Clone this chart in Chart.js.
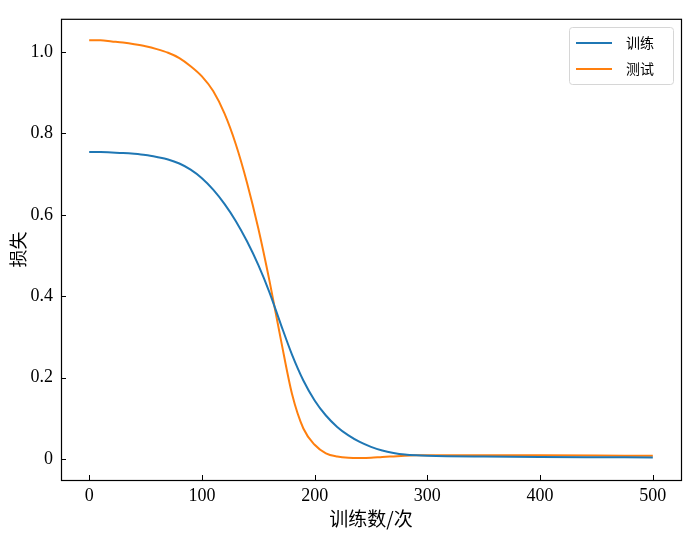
<!DOCTYPE html>
<html>
<head>
<meta charset="utf-8">
<script src="https://cdn.jsdelivr.net/npm/chart.js@4.4.1/dist/chart.umd.min.js"></script>
<style>
    body { margin: 0; background: #fff; }
    #lossChart { display: block; }
</style>
</head>
<body>
<canvas id="lossChart" width="696" height="537"></canvas>
<script>
const steps = [0, 10, 20, 30, 40, 50, 60, 70, 80, 90, 100, 110, 120, 130, 140, 150, 160, 170, 180, 190, 200, 210, 220, 230, 240, 250, 260, 270, 280, 290, 300, 350, 400, 450, 500];
const trainLoss = [0.754, 0.754, 0.753, 0.752, 0.750, 0.747, 0.742, 0.736, 0.726, 0.711, 0.690, 0.662, 0.627, 0.585, 0.535, 0.477, 0.409, 0.331, 0.256, 0.193, 0.144, 0.107, 0.079, 0.058, 0.042, 0.030, 0.021, 0.015, 0.011, 0.009, 0.008, 0.006, 0.005, 0.0045, 0.004];
const testLoss = [1.029, 1.029, 1.026, 1.023, 1.019, 1.014, 1.007, 0.998, 0.985, 0.965, 0.940, 0.904, 0.849, 0.774, 0.679, 0.567, 0.437, 0.294, 0.159, 0.075, 0.035, 0.014, 0.006, 0.003, 0.0025, 0.003, 0.005, 0.0065, 0.008, 0.009, 0.0095, 0.0095, 0.009, 0.0085, 0.008];
const xTicks = [0, 100, 200, 300, 400, 500];
const yTicks = [0, 0.2, 0.4, 0.6, 0.8, 1.0];
const seriesNames = ['训练', '测试'];

const serif = 'Liberation Serif, Noto Sans CJK SC, serif';
const cjk = 'Noto Sans CJK SC, sans-serif';

function toPoints(values) {
    return steps.map((s, i) => ({ x: s, y: values[i] }));
}

// frame + inward ticks like matplotlib
const framePlugin = {
    id: 'frame',
    afterDraw(chart) {
        const ctx = chart.ctx;
        const a = chart.chartArea;
        const xs = chart.scales.x;
        const ys = chart.scales.y;
        ctx.save();
        ctx.strokeStyle = '#000';
        ctx.lineWidth = 1;
        ctx.beginPath();
        xTicks.forEach(t => {
            const px = Math.round(xs.getPixelForValue(t)) + 0.5;
            ctx.moveTo(px, a.bottom);
            ctx.lineTo(px, a.bottom - 5);
        });
        yTicks.forEach(t => {
            const py = Math.round(ys.getPixelForValue(t)) + 0.5;
            ctx.moveTo(a.left, py);
            ctx.lineTo(a.left + 5, py);
        });
        ctx.stroke();
        ctx.lineWidth = 1.2;
        ctx.strokeRect(a.left + 0.5, a.top + 0.5, a.right - a.left, a.bottom - a.top);
        ctx.restore();
    }
};

const legendPlugin = {
    id: 'boxLegend',
    afterDraw(chart) {
        const ctx = chart.ctx;
        const bx = 569, by = 27, bw = 104, bh = 57;
        ctx.save();
        ctx.fillStyle = 'rgba(255,255,255,0.8)';
        ctx.strokeStyle = '#d6d6d6';
        ctx.lineWidth = 1;
        ctx.beginPath();
        ctx.roundRect(bx + 0.5, by + 0.5, bw, bh, 3);
        ctx.fill();
        ctx.stroke();
        ctx.font = '14px ' + cjk;
        ctx.textBaseline = 'middle';
        chart.data.datasets.forEach((ds, i) => {
            const y = by + 16 + i * 26;
            ctx.strokeStyle = ds.borderColor;
            ctx.lineWidth = 2;
            ctx.beginPath();
            ctx.moveTo(576, y);
            ctx.lineTo(612, y);
            ctx.stroke();
            ctx.fillStyle = '#000';
            ctx.fillText(ds.label, 626, y);
        });
        ctx.restore();
    }
};

const ctx = document.getElementById('lossChart').getContext('2d');
window.myChart = new Chart(ctx, {
    type: 'line',
    data: {
        datasets: [
            {
                label: seriesNames[0],
                data: toPoints(trainLoss),
                borderColor: '#1f77b4',
                borderWidth: 2,
                pointRadius: 0,
                cubicInterpolationMode: 'monotone',
                fill: false,
            },
            {
                label: seriesNames[1],
                data: toPoints(testLoss),
                borderColor: '#ff7f0e',
                borderWidth: 2,
                pointRadius: 0,
                cubicInterpolationMode: 'monotone',
                fill: false,
            },
        ],
    },
    options: {
        responsive: false,
        animation: false,
        layout: { padding: { left: 0, top: 18, right: 15, bottom: 0 } },
        plugins: {
            legend: { display: false },
            tooltip: { enabled: false },
        },
        scales: {
            x: {
                type: 'linear',
                min: -25,
                max: 525,
                afterBuildTicks: (axis) => { axis.ticks = xTicks.map(v => ({ value: v })); },
                afterFit: (axis) => { axis.height = 57; },
                grid: { display: false, drawTicks: false },
                border: { display: false },
                ticks: {
                    color: '#000',
                    padding: 5,
                    maxRotation: 0,
                    font: { family: serif, size: 18 },
                    callback: (v) => String(v),
                },
                title: {
                    display: true,
                    text: '训练数/次',
                    color: '#000',
                    font: { family: cjk, size: 19 },
                    padding: { top: 0, bottom: 7 },
                },
            },
            y: {
                min: -0.0515,
                max: 1.0815,
                afterBuildTicks: (axis) => { axis.ticks = yTicks.map(v => ({ value: v })); },
                afterFit: (axis) => { axis.width = 61; },
                grid: { display: false, drawTicks: false },
                border: { display: false },
                ticks: {
                    color: '#000',
                    padding: 8,
                    font: { family: serif, size: 18 },
                    callback: (v) => v === 0 ? '0' : v.toFixed(1),
                },
                title: {
                    display: true,
                    text: '损失',
                    color: '#000',
                    font: { family: cjk, size: 18 },
                    padding: { top: 7, bottom: 0 },
                },
            },
        },
    },
    plugins: [framePlugin, legendPlugin],
});
</script>
</body>
</html>
